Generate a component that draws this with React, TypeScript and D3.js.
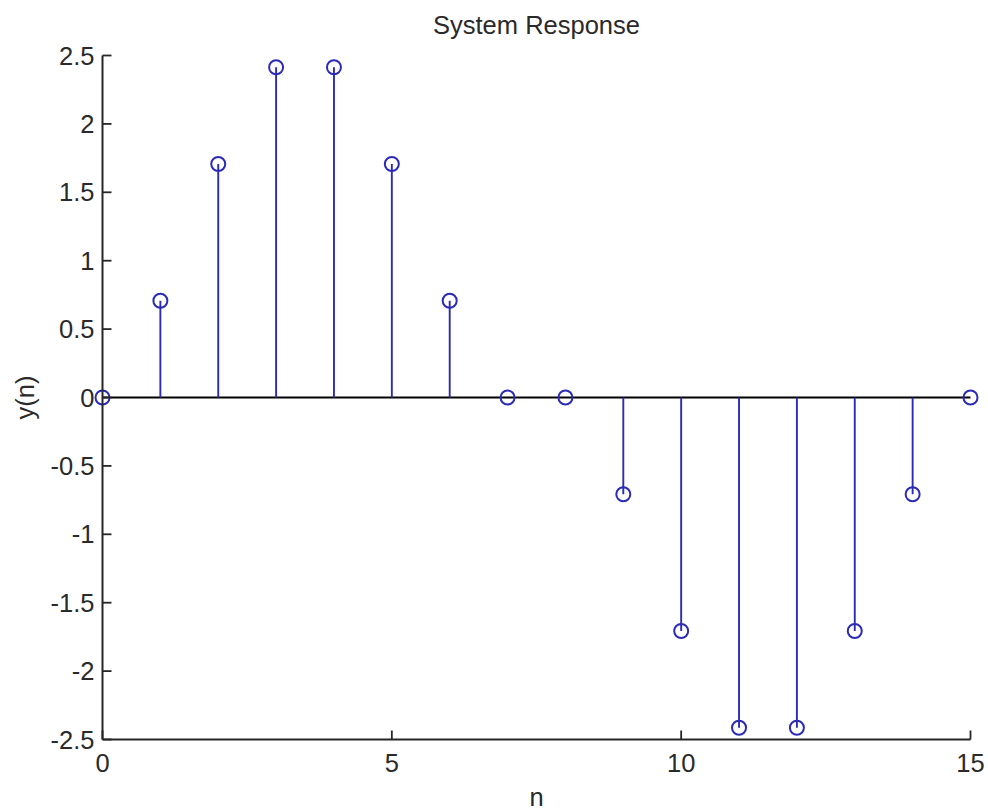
import React from "react";
import * as d3 from "d3";

const nValues = [0, 1, 2, 3, 4, 5, 6, 7, 8, 9, 10, 11, 12, 13, 14, 15];
const yValues = [0, 0.7071, 1.7071, 2.4142, 2.4142, 1.7071, 0.7071, 0, 0, -0.7071, -1.7071, -2.4142, -2.4142, -1.7071, -0.7071, 0];
const xTicks = [0, 5, 10, 15];
const yTicks = [-2.5, -2, -1.5, -1, -0.5, 0, 0.5, 1, 1.5, 2, 2.5];
const title = "System Response";
const xLabel = "n";
const yLabel = "y(n)";

const W = 988;
const H = 811;
const left = 102.5;
const right = 970.5;
const top = 55.5;
const bottom = 739.5;

export default function App() {
  const x = d3.scaleLinear().domain([0, 15]).range([left, right]);
  const y = d3.scaleLinear().domain([-2.5, 2.5]).range([bottom, top]);
  const font = "'Liberation Sans', Arial, sans-serif";
  const fs = 25.5;
  const axisColor = "#262626";
  const textColor = "#2a2a2a";
  const blue = "#2b2bb5";
  const tickLen = 9;
  return (
    <svg width={W} height={H} style={{ position: "fixed", left: 0, top: 0, background: "#fff" }}>
      <rect x={0} y={0} width={W} height={H} fill="#fff" />
      {/* baseline */}
      <line x1={x(0)} x2={x(15)} y1={y(0)} y2={y(0)} stroke="#000" strokeWidth={1.8} />
      {/* stems */}
      {nValues.map((n, i) => (
        <line key={"s" + n} x1={x(n)} x2={x(n)} y1={y(0)} y2={y(yValues[i])} stroke={blue} strokeWidth={1.9} />
      ))}
      {nValues.map((n, i) => (
        <circle key={"c" + n} cx={x(n)} cy={y(yValues[i])} r={7} fill="none" stroke={blue} strokeWidth={2} />
      ))}
      {/* axes */}
      <line x1={left} x2={left} y1={top} y2={bottom} stroke={axisColor} strokeWidth={2} />
      <line x1={left} x2={right} y1={bottom} y2={bottom} stroke={axisColor} strokeWidth={2} />
      {yTicks.map((t) => (
        <g key={"yt" + t}>
          <line x1={left} x2={left + tickLen} y1={y(t)} y2={y(t)} stroke={axisColor} strokeWidth={1.8} />
          <text x={left - 8} y={y(t)} dy="0.36em" textAnchor="end" fontFamily={font} fontSize={fs} fill={textColor}>
            {String(t)}
          </text>
        </g>
      ))}
      {xTicks.map((t) => (
        <g key={"xt" + t}>
          <line x1={x(t)} x2={x(t)} y1={bottom} y2={bottom - tickLen} stroke={axisColor} strokeWidth={1.8} />
          <text x={x(t)} y={bottom + 23} dy="0.36em" textAnchor="middle" fontFamily={font} fontSize={fs} fill={textColor}>
            {String(t)}
          </text>
        </g>
      ))}
      <text x={(left + right) / 2} y={25} dy="0.36em" textAnchor="middle" fontFamily={font} fontSize={fs} fill={textColor}>
        {title}
      </text>
      <text x={(left + right) / 2} y={797} dy="0.36em" textAnchor="middle" fontFamily={font} fontSize={fs} fill={textColor}>
        {xLabel}
      </text>
      <text transform={`translate(25, ${(top + bottom) / 2}) rotate(-90)`} dy="0.36em" textAnchor="middle" fontFamily={font} fontSize={fs} fill={textColor}>
        {yLabel}
      </text>
    </svg>
  );
}
